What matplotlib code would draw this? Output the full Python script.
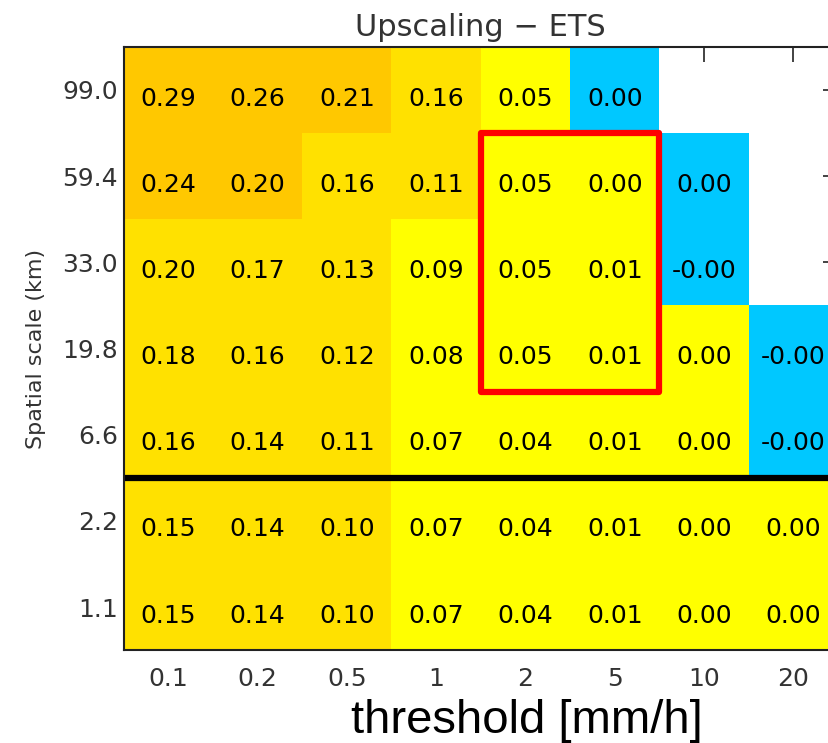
import numpy as np
import matplotlib
matplotlib.use("Agg")
import matplotlib.pyplot as plt
from matplotlib.colors import ListedColormap, BoundaryNorm
from matplotlib.patches import Rectangle

thresholds = ["0.1", "0.2", "0.5", "1", "2", "5", "10", "20"]
scales = ["99.0", "59.4", "33.0", "19.8", "6.6", "2.2", "1.1"]

# ETS, rows top to bottom (largest scale first); nan = no value
ets_99 = [0.29, 0.26, 0.21, 0.16, 0.05, 0.00, np.nan, np.nan]
ets_59 = [0.24, 0.203, 0.16, 0.11, 0.05, 0.004, 0.00, np.nan]
ets_33 = [0.198, 0.17, 0.13, 0.09, 0.05, 0.01, -0.001, np.nan]
ets_19 = [0.18, 0.16, 0.12, 0.08, 0.05, 0.01, 0.002, -0.001]
ets_6 = [0.16, 0.14, 0.11, 0.07, 0.04, 0.01, 0.002, -0.001]
ets_2 = [0.15, 0.14, 0.10, 0.07, 0.04, 0.01, 0.002, 0.002]
ets_1 = [0.15, 0.14, 0.10, 0.07, 0.04, 0.01, 0.002, 0.002]

ets = np.array([ets_99, ets_59, ets_33, ets_19, ets_6, ets_2, ets_1])

cmap = ListedColormap(["#00c8ff", "#ffff00", "#ffe100", "#ffc800"])
cmap.set_bad((1, 1, 1, 0))
norm = BoundaryNorm([-1, 0.0005, 0.0995, 0.2, 1], cmap.N)

fig = plt.figure(figsize=(8.29, 7.43), dpi=100)
ax = fig.add_axes([0.149, 0.125, 0.862, 0.812])

ax.set_axisbelow(True)
ax.pcolormesh(np.arange(len(thresholds) + 1), np.arange(len(scales) + 1),
              np.ma.masked_invalid(ets), cmap=cmap, norm=norm)
ax.set_xlim(0, len(thresholds))
ax.set_ylim(len(scales), 0)

for i in range(len(scales)):
    for j in range(len(thresholds)):
        v = ets[i, j]
        if np.isnan(v):
            continue
        ax.text(j + 0.5, i + 0.6, f"{v:.2f}", ha="center", va="center",
                fontsize=18, color="black")

ax.set_xticks(np.arange(len(thresholds)) + 0.5)
ax.set_xticklabels(thresholds)
ax.set_yticks(np.arange(len(scales)) + 0.5)
ax.set_yticklabels(scales)
ax.tick_params(direction="in", length=11, width=1.2, top=True, right=True,
               labelsize=18, labelcolor="#333333", color="#222222")
ax.tick_params(axis="x", pad=12)
ax.tick_params(axis="y", pad=4)

for s in ax.spines.values():
    s.set_linewidth(1.5)
    s.set_color("#222222")

# split between model grid and upscaled scales
ax.axhline(5, color="black", lw=4.5)

# highlight box
ax.add_patch(Rectangle((4, 1), 2, 3, fill=False, edgecolor="#ff0000",
                       lw=4.5, joinstyle="round", clip_on=False, zorder=5))

ax.set_title("Upscaling \u2212 ETS", fontsize=22, color="#333333", pad=8)
ax.set_ylabel("Spatial scale (km)", fontsize=16, color="#333333", labelpad=12)
fig.text(0.636, 0.03, "threshold [mm/h]", ha="center", va="center",
         fontsize=34, family="Liberation Sans", color="black")

fig.savefig("out.png", dpi=100)
